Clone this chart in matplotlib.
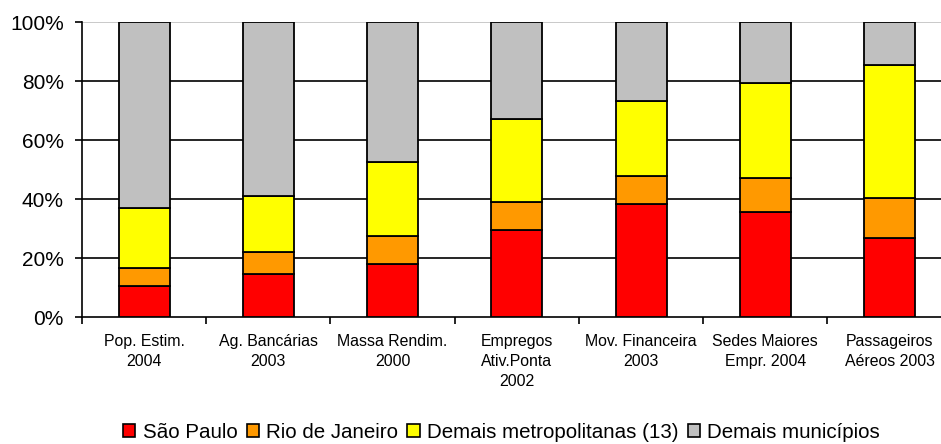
import matplotlib
matplotlib.use("Agg")
import matplotlib.pyplot as plt
import numpy as np
from matplotlib.patches import Patch

plt.rcParams['font.family'] = ['Liberation Sans', 'DejaVu Sans']

categories = [
    "Pop. Estim.\n2004",
    "Ag. Bancárias\n2003",
    "Massa Rendim.\n2000",
    "Empregos\nAtiv.Ponta\n2002",
    "Mov. Financeira\n2003",
    "Sedes Maiores\nEmpr. 2004",
    "Passageiros\nAéreos 2003",
]
series_names = ["São Paulo", "Rio de Janeiro", "Demais metropolitanas (13)", "Demais municípios"]
sao_paulo = [10.7, 14.7, 18.1, 29.6, 38.3, 35.7, 26.9]
rio_de_janeiro = [6.1, 7.4, 9.5, 9.5, 9.5, 11.4, 13.4]
demais_metro = [20.1, 18.9, 24.9, 28.2, 25.6, 32.4, 45.3]
demais_municipios = [63.1, 59.0, 47.5, 32.7, 26.6, 20.5, 14.4]
colors = ["#FF0000", "#FF9900", "#FFFF00", "#C0C0C0"]

fig = plt.figure(figsize=(9.41, 4.44), dpi=100)
ax = fig.add_axes([0.0871, 0.2853, 0.9242, 0.6645])

x = np.arange(len(categories))
bottom = np.zeros(len(categories))
for vals, col in zip([sao_paulo, rio_de_janeiro, demais_metro, demais_municipios], colors):
    ax.bar(x, vals, width=0.41, bottom=bottom, color=col, edgecolor="black",
           linewidth=1.3, zorder=3)
    bottom += np.array(vals)

ax.set_xlim(-0.5, len(categories) - 0.5)
ax.set_ylim(0, 100)

# horizontal grid
for yv in [20, 40, 60, 80]:
    ax.axhline(yv, color="black", linewidth=1.2, zorder=1)
ax.axhline(100, color="#C0C0C0", linewidth=1.2, zorder=1)

ax.set_yticks([0, 20, 40, 60, 80, 100])
ax.set_yticklabels(["0%", "20%", "40%", "60%", "80%", "100%"], fontsize=15)
ax.tick_params(axis="y", length=5, width=1.2, color="black", pad=8)

ax.set_xticks(x)
ax.set_xticklabels(categories, fontsize=11.4, linespacing=1.4)
ax.set_xticks(np.arange(len(categories)) - 0.5, minor=True)
ax.tick_params(axis="x", which="major", length=0, pad=12)
ax.tick_params(axis="x", which="minor", length=5, width=1.2, color="black")

for side in ["top", "right"]:
    ax.spines[side].set_visible(False)
ax.spines["left"].set_linewidth(1.2)
ax.spines["bottom"].set_linewidth(1.2)

handles = [Patch(facecolor=c, edgecolor="black", linewidth=1.2, label=n)
           for c, n in zip(colors, series_names)]
fig.legend(handles=handles, loc="center", bbox_to_anchor=(0.533, 0.027),
           ncol=4, frameon=False, fontsize=14.8, handlelength=0.6, handleheight=0.6,
           handletextpad=0.35, columnspacing=0.45, borderaxespad=0)

fig.savefig("out.png", dpi=100)
